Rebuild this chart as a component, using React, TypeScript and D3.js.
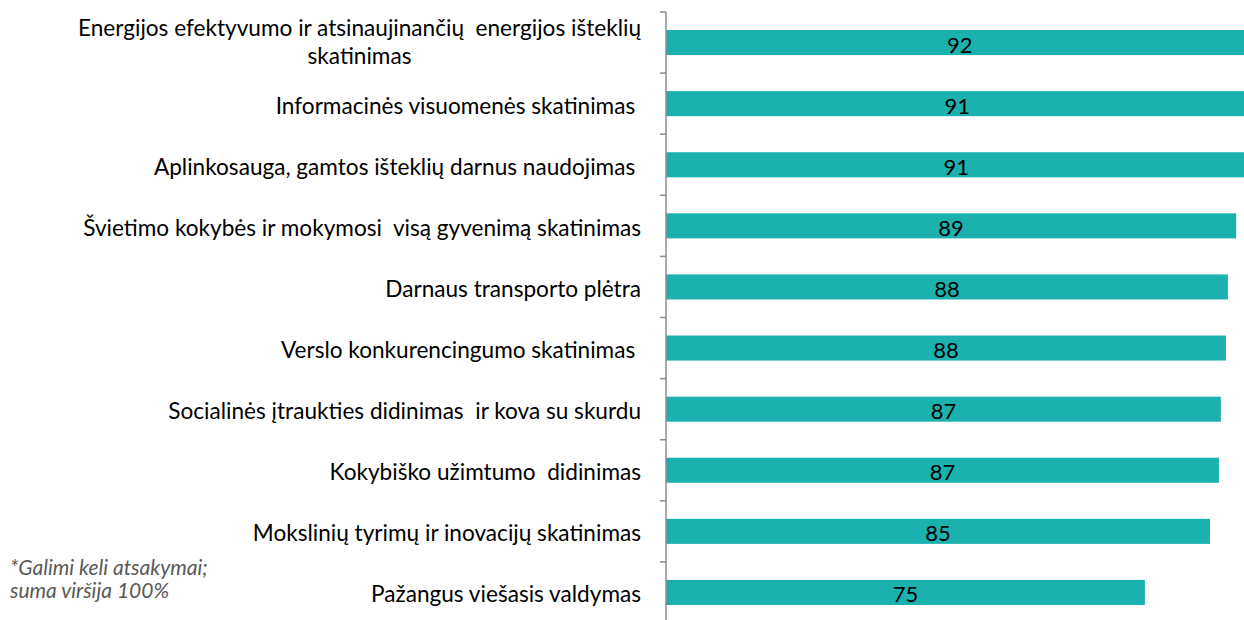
import React, { useEffect, useRef } from 'react';
import * as d3 from 'd3';

// categories, top to bottom (line breaks as in the original)
const categories = [
  'Energijos efektyvumo ir atsinaujinančių  energijos išteklių\nskatinimas',
  'Informacinės visuomenės skatinimas ',
  'Aplinkosauga, gamtos išteklių darnus naudojimas ',
  'Švietimo kokybės ir mokymosi  visą gyvenimą skatinimas',
  'Darnaus transporto plėtra',
  'Verslo konkurencingumo skatinimas ',
  'Socialinės įtraukties didinimas  ir kova su skurdu',
  'Kokybiško užimtumo  didinimas',
  'Mokslinių tyrimų ir inovacijų skatinimas',
  'Pažangus viešasis valdymas',
];
const values = [92.0, 91.2, 90.9, 89.3, 88.0, 87.7, 86.9, 86.6, 85.2, 75.0];
const labels = ['92', '91', '91', '89', '88', '88', '87', '87', '85', '75'];
const note = ['*Galimi keli atsakymai;', 'suma viršija 100%'];

const W = 1244;
const H = 620;
const FONT = 'Lato, "Open Sans", sans-serif';

const App = () => {
  const ref = useRef<SVGSVGElement>(null);

  useEffect(() => {
    const svg = d3.select(ref.current);
    svg.selectAll('*').remove();

    const axisX = 666;
    const x = d3.scaleLinear().domain([0, 100]).range([axisX, axisX + 638.5]);
    const y = d3
      .scaleBand()
      .domain(categories)
      .range([12, 623])
      .paddingInner(0.59)
      .paddingOuter(0.295);

    const step = y.step();
    const top = y.range()[0];

    // bars
    svg
      .append('g')
      .selectAll('rect')
      .data(values)
      .enter()
      .append('rect')
      .attr('x', x(0))
      .attr('y', (d, i) => y(categories[i]))
      .attr('width', (d) => x(d) - x(0))
      .attr('height', y.bandwidth())
      .attr('fill', '#1bb1ae');

    // value labels, centred on the bar
    svg
      .append('g')
      .selectAll('text')
      .data(values)
      .enter()
      .append('text')
      .attr('x', (d) => (x(0) + x(d)) / 2)
      .attr('y', (d, i) => y(categories[i]) + y.bandwidth() / 2 + 10)
      .attr('text-anchor', 'middle')
      .attr('font-family', FONT)
      .attr('font-size', 22)
      .attr('fill', '#000')
      .text((d, i) => labels[i]);

    // axis line + ticks at category boundaries
    const axis = svg.append('g').attr('stroke', '#8c8c8c').attr('stroke-width', 1.5);
    axis.append('line').attr('x1', axisX).attr('x2', axisX).attr('y1', top).attr('y2', H + 10);
    d3.range(categories.length + 1).forEach((i) => {
      const ty = top + i * step;
      axis.append('line').attr('x1', axisX - 6).attr('x2', axisX).attr('y1', ty).attr('y2', ty);
    });

    // category labels
    const cat = svg
      .append('g')
      .attr('font-family', FONT)
      .attr('font-size', 22.6)
      .attr('fill', '#000');
    categories.forEach((c, i) => {
      const lines = c.split('\n');
      const cy = y(c) + y.bandwidth() / 2;
      if (lines.length === 1) {
        cat.append('text')
          .style('white-space', 'pre')
          .attr('x', 641)
          .attr('y', cy + 10)
          .attr('text-anchor', 'end')
          .text(c);
      } else {
        const t = cat.append('text')
          .style('white-space', 'pre')
          .attr('y', cy - 7)
          .attr('text-anchor', 'end')
          .attr('x', 641)
          .text(lines[0]);
        const w = (t.node() as SVGTextElement).getComputedTextLength();
        cat.append('text')
          .attr('x', 641 - w / 2)
          .attr('y', cy + 21)
          .attr('text-anchor', 'middle')
          .text(lines[1]);
      }
    });

    // footnote
    svg
      .append('g')
      .attr('font-family', FONT)
      .attr('font-size', 21)
      .attr('font-style', 'italic')
      .attr('fill', '#595959')
      .selectAll('text')
      .data(note)
      .enter()
      .append('text')
      .attr('x', 10)
      .attr('y', (d, i) => 575 + i * 23)
      .text((d) => d);
  }, []);

  return (
    <svg
      ref={ref}
      width={W}
      height={H}
      style={{ position: 'absolute', left: 0, top: 0, background: '#fff' }}
    />
  );
};

export default App;
